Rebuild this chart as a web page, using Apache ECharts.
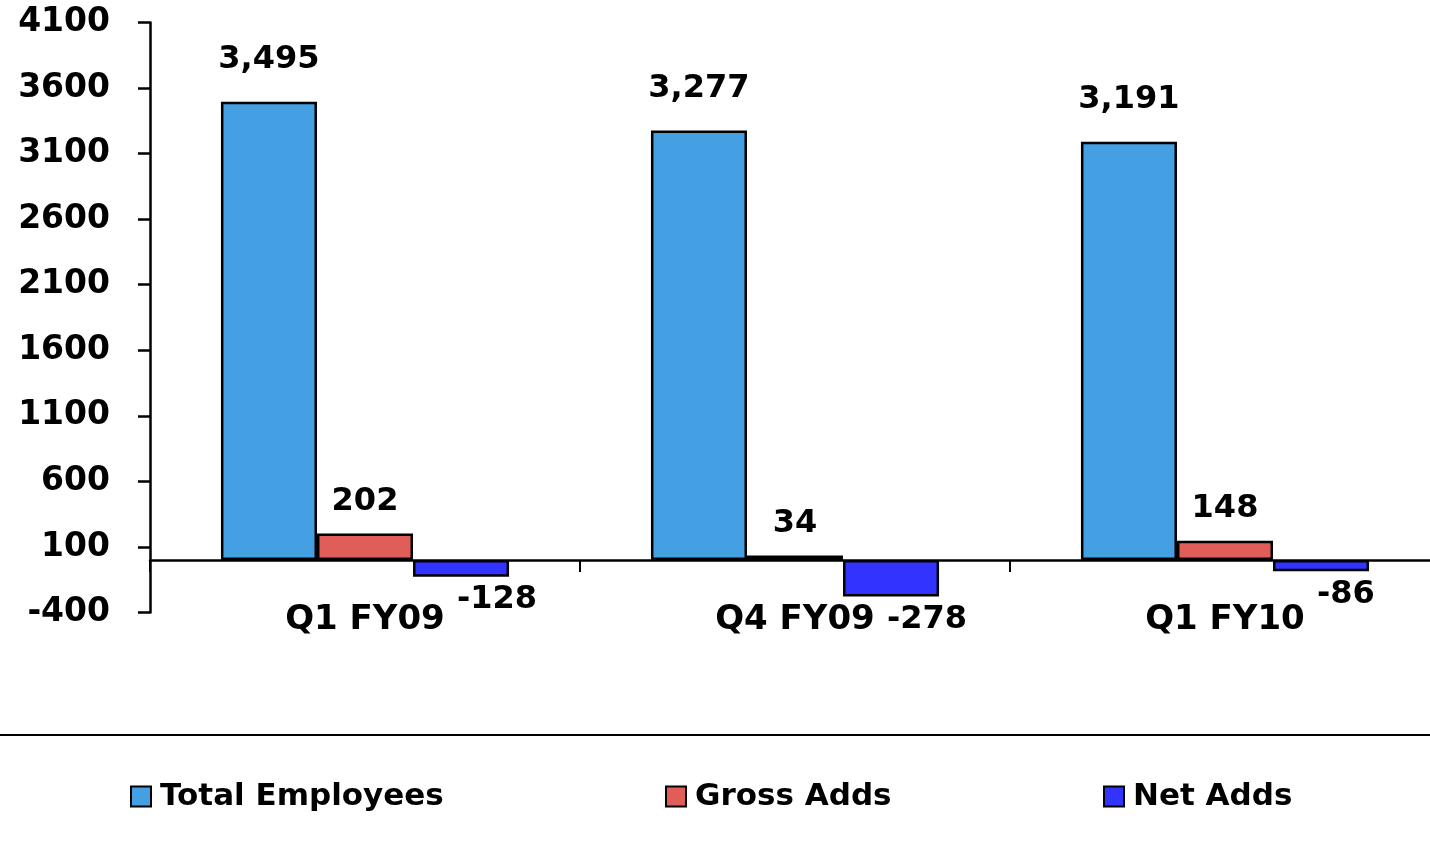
<!DOCTYPE html>
<html>
<head>
<meta charset="utf-8">
<script src="https://cdn.jsdelivr.net/npm/echarts@6/dist/echarts.min.js"></script>
<style>
html,body{margin:0;padding:0;background:#fff;}
#chart{width:1430px;height:845px;}
</style>
</head>
<body>
<div id="chart"></div>
<script>
const categories = ['Q1 FY09', 'Q4 FY09', 'Q1 FY10'];
const totalEmployees = [3495, 3277, 3191];
const grossAdds = [202, 34, 148];
const netAdds = [-128, -278, -86];
const yMin = -400, yMax = 4100, yStep = 500;

const FONT = 'DejaVu Sans';
const fmt = v => Number(v).toLocaleString('en-US');
const chart = echarts.init(document.getElementById('chart'));

const labelBase = {show: true, fontFamily: FONT, fontWeight: 'bold', fontSize: 32, color: '#000'};
const barStyle = c => ({color: c, borderColor: '#000', borderWidth: 2.5});

chart.setOption({
  animation: false,
  backgroundColor: '#fff',
  grid: {left: 150, width: 1290, top: 22.5, height: 590, containLabel: false, outerBoundsMode: 'none'},
  xAxis: {
    type: 'category',
    data: categories,
    axisLine: {show: true, onZero: true, lineStyle: {color: '#000', width: 2.5}},
    axisTick: {show: true, length: 12, inside: false, lineStyle: {color: '#000', width: 2}},
    axisLabel: {fontFamily: FONT, fontWeight: 'bold', fontSize: 34, color: '#000', margin: -9},
    splitLine: {show: false}
  },
  yAxis: {
    type: 'value',
    min: yMin, max: yMax, interval: yStep,
    axisLine: {show: true, lineStyle: {color: '#000', width: 2.5}},
    axisTick: {show: true, length: 12, lineStyle: {color: '#000', width: 2.5}},
    axisLabel: {fontFamily: FONT, fontWeight: 'bold', fontSize: 33, color: '#000', margin: 40, formatter: v => String(v)},
    splitLine: {show: false}
  },
  legend: [
    {data: ['Total Employees'], left: 130, top: 781},
    {data: ['Gross Adds'], left: 665, top: 781},
    {data: ['Net Adds'], left: 1103, top: 781}
  ].map(l => Object.assign(l, {
    padding: 0,
    itemWidth: 20, itemHeight: 20, icon: 'rect',
    textStyle: {fontFamily: FONT, fontWeight: 'bold', fontSize: 31, color: '#000', padding: [0, 0, 0, 4]}
  })),
  graphic: [{
    type: 'line',
    shape: {x1: 0, y1: 735, x2: 1430, y2: 735},
    style: {stroke: '#000', lineWidth: 2}
  }],
  series: [
    {
      name: 'Total Employees', type: 'bar', data: totalEmployees,
      barGap: '0%', barCategoryGap: '33%',
      itemStyle: barStyle('#45A0E3'),
      label: Object.assign({}, labelBase, {position: 'top', distance: 26, formatter: p => fmt(p.value)})
    },
    {
      name: 'Gross Adds', type: 'bar', data: grossAdds,
      barGap: '0%', barCategoryGap: '33%',
      itemStyle: barStyle('#E05E57'),
      label: Object.assign({}, labelBase, {position: 'top', distance: 16})
    },
    {
      name: 'Net Adds', type: 'bar', data: netAdds,
      barGap: '0%', barCategoryGap: '33%',
      itemStyle: barStyle('#3333FF'),
      label: Object.assign({}, labelBase, {position: 'bottom', distance: 7, align: 'left', offset: [-4, 0]})
    }
  ]
});
</script>
</body>
</html>
